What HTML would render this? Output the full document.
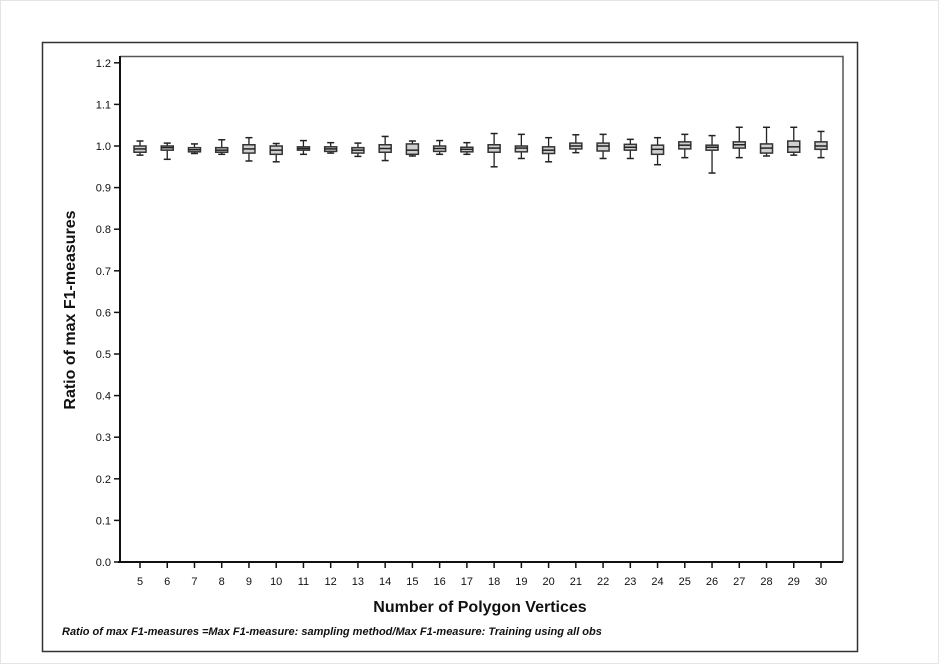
<!DOCTYPE html>
<html><head><meta charset="utf-8"><style>
body{margin:0;background:#fff;}
svg{display:block;font-family:"Liberation Sans",Arial,sans-serif;}
</style></head><body>
<svg width="939" height="664" viewBox="0 0 939 664">
<rect x="0.5" y="0.5" width="938" height="663" fill="#fff" stroke="#e4e4e4"/>
<rect x="42.5" y="42.5" width="815" height="609" fill="#fff" stroke="#333" stroke-width="1.5"/>
<polyline points="120,56.5 843,56.5 843,562" fill="none" stroke="#555" stroke-width="1.5"/>
<g id="axes"></g>
<g id="boxes"></g>
<text x="480" y="612" text-anchor="middle" font-size="16" font-weight="bold" fill="#111">Number of Polygon Vertices</text>
<text transform="translate(75,310) rotate(-90)" text-anchor="middle" font-size="16" font-weight="bold" fill="#111">Ratio of max F1-measures</text>
<text x="62" y="635" font-size="11" font-weight="bold" font-style="italic" fill="#111">Ratio of max F1-measures =Max F1-measure: sampling method/Max F1-measure: Training using all obs</text>
</svg>
<script>
const categories=[5,6,7,8,9,10,11,12,13,14,15,16,17,18,19,20,21,22,23,24,25,26,27,28,29,30];
const whiskerLow=[.978,.968,.982,.98,.964,.962,.98,.983,.975,.965,.976,.98,.98,.95,.97,.962,.984,.97,.97,.955,.972,.935,.972,.976,.978,.972];
const q1=[.985,.99,.986,.985,.983,.98,.99,.987,.983,.985,.98,.987,.986,.985,.986,.982,.993,.988,.99,.98,.993,.99,.995,.983,.985,.992];
const median=[.993,.996,.991,.99,.993,.99,.994,.993,.99,.994,.99,.994,.992,.995,.995,.99,1.0,1.0,.997,.992,1.002,.997,1.003,.995,.998,1.0];
const q3=[1.0,1.0,.996,.996,1.003,1.0,.998,.998,.996,1.003,1.005,1.0,.997,1.003,1.0,.998,1.007,1.007,1.004,1.002,1.01,1.002,1.01,1.005,1.012,1.01];
const whiskerHigh=[1.012,1.007,1.005,1.015,1.02,1.006,1.013,1.008,1.007,1.023,1.012,1.013,1.008,1.03,1.028,1.02,1.027,1.028,1.016,1.02,1.028,1.025,1.045,1.045,1.045,1.035];
const yTicks=[0,0.1,0.2,0.3,0.4,0.5,0.6,0.7,0.8,0.9,1.0,1.1,1.2];
const yLabels=["0.0","0.1","0.2","0.3","0.4","0.5","0.6","0.7","0.8","0.9","1.0","1.1","1.2"];
const NS="http://www.w3.org/2000/svg";
const y=v=>562-v*416;
const x=i=>140+i*(821-140)/(categories.length-1);
function mk(tag,attrs,parent,txt){const e=document.createElementNS(NS,tag);for(const k in attrs)e.setAttribute(k,attrs[k]);if(txt!==undefined)e.textContent=txt;parent.appendChild(e);return e;}
const ax=document.getElementById('axes');
let l=mk('line',{x1:120,y1:56,x2:120,y2:562,stroke:'#111','stroke-width':2},ax);


l=mk('line',{x1:118,y1:562,x2:843,y2:562,stroke:'#111','stroke-width':2},ax);


yTicks.forEach((t,i)=>{
  let tk=mk('line',{x1:114,y1:y(t),x2:120,y2:y(t),stroke:'#111','stroke-width':1.5},ax);
  
  
  let tx=mk('text',{x:111,y:y(t)+4,'text-anchor':'end','font-size':11,fill:'#111'},ax,yLabels[i]);
  
  
});
categories.forEach((c,i)=>{
  let tk=mk('line',{x1:x(i),y1:562,x2:x(i),y2:568,stroke:'#111','stroke-width':1.5},ax);
  
  
  let tx=mk('text',{x:x(i),y:585,'text-anchor':'middle','font-size':11,fill:'#111'},ax,String(c));
  
  
});
const bx=document.getElementById('boxes');
categories.forEach((c,i)=>{
  const g=mk('g',{},bx);
  
  
  const cx=x(i),w=12;
  mk('line',{x1:cx,y1:y(whiskerHigh[i]),x2:cx,y2:y(whiskerLow[i]),stroke:'#222','stroke-width':1.3},g);
  mk('line',{x1:cx-3.5,y1:y(whiskerHigh[i]),x2:cx+3.5,y2:y(whiskerHigh[i]),stroke:'#222','stroke-width':1.5},g);
  mk('line',{x1:cx-3.5,y1:y(whiskerLow[i]),x2:cx+3.5,y2:y(whiskerLow[i]),stroke:'#222','stroke-width':1.5},g);
  mk('rect',{x:cx-w/2,y:y(q3[i]),width:w,height:Math.max(2,y(q1[i])-y(q3[i])),fill:'#cfcfcf',stroke:'#333','stroke-width':1.5},g);
  mk('line',{x1:cx-w/2,y1:y(median[i]),x2:cx+w/2,y2:y(median[i]),stroke:'#222','stroke-width':1.5},g);
});
</script>
</body></html>
